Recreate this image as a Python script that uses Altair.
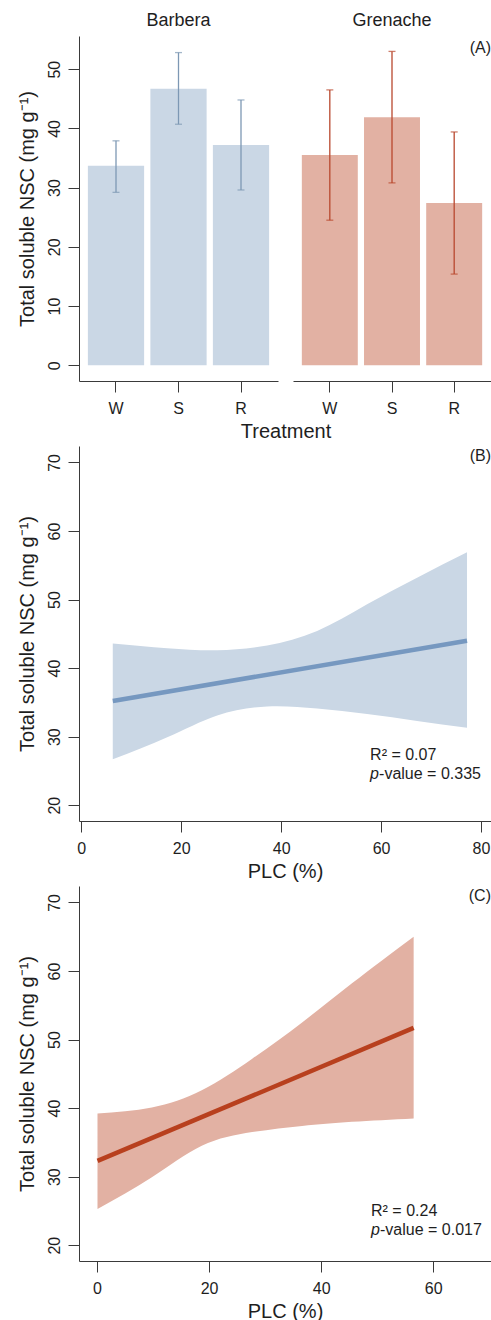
import altair as alt
import pandas as pd

FONT = "Liberation Sans, Arial, Helvetica, sans-serif"
AX = "#3a3a3a"
TXT = "#1e1e1e"

# ---------------- data ----------------
treatments = ["W", "S", "R"]
barbera_mean = [33.7, 46.7, 37.2]
barbera_upper = [37.9, 52.8, 44.8]
barbera_lower = [29.2, 40.7, 29.6]
grenache_mean = [35.5, 41.9, 27.4]
grenache_upper = [46.5, 53.0, 39.4]
grenache_lower = [24.5, 30.8, 15.4]

# panel B (Barbera regression)
b_band_plc = [6.3, 17.2, 27.2, 37.2, 47.2, 57.2, 67.2, 77.2]
b_band_upper = [43.6, 42.9, 42.6, 43.3, 45.4, 49.3, 53.2, 56.9]
b_band_lower = [26.7, 29.9, 33.1, 34.4, 34.1, 33.3, 32.3, 31.3]
b_fit_plc = [6.3, 77.2]
b_fit_nsc = [35.2, 44.0]

# panel C (Grenache regression)
c_band_plc = [0.1, 9.8, 18.7, 27.7, 36.6, 45.5, 56.5]
c_band_upper = [39.2, 40.1, 42.6, 47.2, 52.5, 58.2, 65.0]
c_band_lower = [25.3, 29.9, 34.5, 36.5, 37.4, 38.0, 38.5]
c_fit_plc = [0.1, 56.5]
c_fit_nsc = [32.3, 51.7]

y_title = "Total soluble NSC (mg g\u207b\u00b9)"

# colours
BAR_B, ERR_B = "#cad7e5", "#7d98b4"
BAR_G, ERR_G = "#e2b1a3", "#b9482e"
LINE_B, BAND_B = "#7698c0", "#cad7e5"
LINE_C, BAND_C = "#b8401e", "#e2b1a3"

yax = dict(labelAngle=270, labelAlign="center", labelBaseline="alphabetic",
           tickSize=11, labelPadding=9, titlePadding=9, labelFontSize=16,
           titleFontSize=20, grid=False, labelOverlap=False, labelFlush=False,
           domainColor=AX, tickColor=AX, labelColor=TXT, titleColor=TXT,
           titleFontWeight="normal", labelFont=FONT, titleFont=FONT)
xax = dict(labelAngle=0, tickSize=11, labelPadding=8, titlePadding=5,
           labelFontSize=16, titleFontSize=20, grid=False, labelFlush=False,
           labelOverlap=False, domainColor=AX, tickColor=AX, labelColor=TXT,
           titleColor=TXT, titleFontWeight="normal", labelFont=FONT, titleFont=FONT)

A_H = 345
A_W1, A_W2 = 199, 198
P_W, P_H = 412, 375


def bar_panel(mean, upper, lower, bar_c, err_c, width, title, show_y, x_title, tag):
    df = pd.DataFrame({"treatment": treatments, "mean": mean,
                       "upper": upper, "lower": lower})
    ax_kw = dict(xax)
    if x_title:
        ax_kw["titleX"] = width + 7.5
    x = alt.X("treatment:N", sort=treatments,
              scale=alt.Scale(domain=treatments, paddingInner=0.1, paddingOuter=0.142),
              axis=alt.Axis(title=x_title if x_title else None, **ax_kw))
    yscale = alt.Scale(domain=[-2.65, 55.6], nice=False, zero=False)
    if show_y:
        y = alt.Y("mean:Q", scale=yscale,
                  axis=alt.Axis(values=[0, 10, 20, 30, 40, 50], title=y_title, **yax))
    else:
        y = alt.Y("mean:Q", scale=yscale, axis=None)
    base = alt.Chart(df)
    bars = base.mark_bar(color=bar_c).encode(x=x, y=y, y2=alt.datum(0))
    rule = base.mark_rule(color=err_c, strokeWidth=1.3).encode(
        x=x, y=alt.Y("lower:Q", scale=yscale), y2="upper:Q")
    cap_hi = base.mark_tick(color=err_c, thickness=1.3, size=7, orient="horizontal").encode(
        x=x, y=alt.Y("upper:Q", scale=yscale))
    cap_lo = base.mark_tick(color=err_c, thickness=1.3, size=7, orient="horizontal").encode(
        x=x, y=alt.Y("lower:Q", scale=yscale))
    layers = [bars, rule, cap_hi, cap_lo]
    if tag:
        tag_df = pd.DataFrame({"label": [tag], "nsc": [53.6]})
        layers.append(alt.Chart(tag_df).mark_text(
            align="right", baseline="middle", fontSize=16, font=FONT, color=TXT).encode(
            x=alt.value(width), y=alt.Y("nsc:Q", scale=yscale), text="label:N"))
    return alt.layer(*layers).properties(
        width=width, height=A_H,
        title=alt.TitleParams(title, fontSize=18, font=FONT, fontWeight="normal",
                              color=TXT, anchor="middle", baseline="alphabetic", offset=-8))


barbera = bar_panel(barbera_mean, barbera_upper, barbera_lower, BAR_B, ERR_B,
                    A_W1, "Barbera", True, "Treatment", None)
grenache = bar_panel(grenache_mean, grenache_upper, grenache_lower, BAR_G, ERR_G,
                     A_W2, "Grenache", False, None, "(A)")
panel_a = alt.hconcat(barbera, grenache, spacing=15, bounds="flush")


def reg_panel(band_plc, band_up, band_lo, fit_plc, fit_nsc, band_c, line_c,
              xdom, xvals, r2_text, p_text, ann_x, ann_y1, ann_y2, tag):
    xs = alt.Scale(domain=xdom, nice=False, zero=False)
    ys = alt.Scale(domain=[17.7, 72.4], nice=False, zero=False)
    band_df = pd.DataFrame({"plc": band_plc, "upper": band_up, "lower": band_lo})
    fit_df = pd.DataFrame({"plc": fit_plc, "nsc": fit_nsc})
    band = alt.Chart(band_df).mark_area(color=band_c, opacity=1, interpolate="natural").encode(
        x=alt.X("plc:Q", scale=xs, axis=alt.Axis(values=xvals, title="PLC (%)", **xax)),
        y=alt.Y("lower:Q", scale=ys,
                axis=alt.Axis(values=[20, 30, 40, 50, 60, 70], title=y_title, **yax)),
        y2="upper:Q")
    line = alt.Chart(fit_df).mark_line(color=line_c, strokeWidth=4.5, strokeCap="butt").encode(
        x=alt.X("plc:Q", scale=xs), y=alt.Y("nsc:Q", scale=ys))
    ann_df = pd.DataFrame({"plc": [ann_x, ann_x, ann_x],
                           "nsc": [ann_y1, ann_y2, ann_y2],
                           "label": [r2_text, "p", p_text]})
    t1 = alt.Chart(ann_df.iloc[[0]]).mark_text(
        align="left", baseline="middle", fontSize=16, font=FONT, color=TXT).encode(
        x=alt.X("plc:Q", scale=xs), y=alt.Y("nsc:Q", scale=ys), text="label:N")
    t2 = alt.Chart(ann_df.iloc[[1]]).mark_text(
        align="left", baseline="middle", fontSize=16, font=FONT, color=TXT,
        fontStyle="italic").encode(
        x=alt.X("plc:Q", scale=xs), y=alt.Y("nsc:Q", scale=ys), text="label:N")
    t3 = alt.Chart(ann_df.iloc[[2]]).mark_text(
        align="left", baseline="middle", fontSize=16, font=FONT, color=TXT, dx=9).encode(
        x=alt.X("plc:Q", scale=xs), y=alt.Y("nsc:Q", scale=ys), text="label:N")
    tag_df = pd.DataFrame({"plc": [xdom[1]], "nsc": [71.0], "label": [tag]})
    t4 = alt.Chart(tag_df).mark_text(
        align="right", baseline="middle", fontSize=16, font=FONT, color=TXT).encode(
        x=alt.X("plc:Q", scale=xs), y=alt.Y("nsc:Q", scale=ys), text="label:N")
    return alt.layer(band, line, t1, t2, t3, t4).properties(width=P_W, height=P_H)


panel_b = reg_panel(b_band_plc, b_band_upper, b_band_lower, b_fit_plc, b_fit_nsc,
                    BAND_B, LINE_B, [-0.46, 82.0], [0, 20, 40, 60, 80],
                    "R\u00b2 = 0.07", "-value = 0.335", 57.8, 27.4, 24.5, "(B)")
panel_c = reg_panel(c_band_plc, c_band_upper, c_band_lower, c_fit_plc, c_fit_nsc,
                    BAND_C, LINE_C, [-3.2, 70.3], [0, 20, 40, 60],
                    "R\u00b2 = 0.24", "-value = 0.017", 48.9, 25.0, 22.2, "(C)")

chart = alt.vconcat(panel_a, panel_b, panel_c, spacing=5).properties(
    padding={"left": 17, "top": 12, "right": 0, "bottom": 0}
).configure(font=FONT, background="white").configure_view(stroke=None)

chart.save("out.html", embed_options={"renderer": "svg", "actions": False})
